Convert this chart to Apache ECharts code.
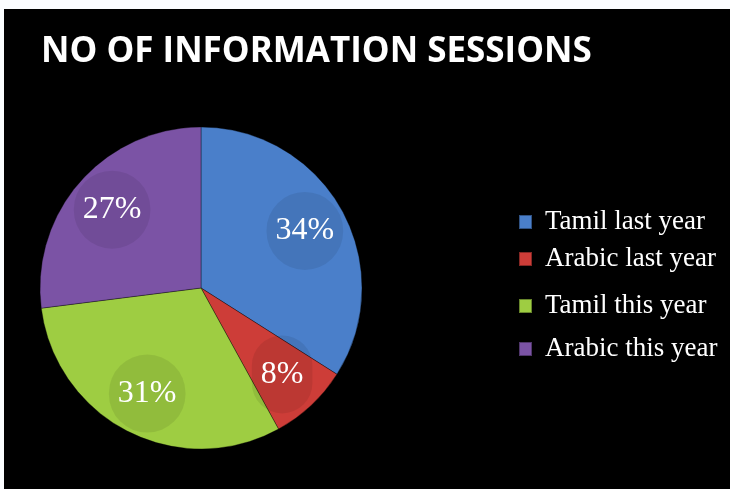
<!DOCTYPE html>
<html>
<head>
<meta charset="utf-8">
<script src="https://cdn.jsdelivr.net/npm/echarts@6/dist/echarts.min.js"></script>
<style>
  html, body { margin: 0; padding: 0; background: #fbfdff; }
  #chart { position: absolute; left: 4px; top: 9px; width: 726px; height: 480px; background: #000; }
</style>
</head>
<body>
<div id="chart"></div>
<script>
// session shares (%)
var categories = ['Tamil last year', 'Arabic last year', 'Tamil this year', 'Arabic this year'];
var shares = [34, 8, 31, 27];
var colors = ['#4a7fca', '#cd3d38', '#9ecd42', '#7b53a5'];

// legend rows are not evenly spaced in the original
var legendTops = [193, 230, 277, 320];

var chart = echarts.init(document.getElementById('chart'));

function pieData(){
	return categories.map(function(name, i){
		return { name: name, value: shares[i] };
	});
}

var legends = categories.map(function(name, i){
	return {
		orient: 'vertical',
		left: 509,
		top: legendTops[i],
		itemWidth: 13,
		itemHeight: 14,
		icon: 'rect',
		data: [name],
		textStyle: {
			color: '#fff',
			fontFamily: 'Liberation Serif',
			fontSize: 27,
			lineHeight: 30,
			padding: [0, 0, 0, 8]
		}
	};
});

var option = {
	backgroundColor: '#000',
	color: colors,
	animation: false,
	title: {
		text: 'NO OF INFORMATION SESSIONS',
		left: 32,
		top: 21,
		textStyle: {
			color: '#fff',
			fontFamily: 'Open Sans',
			fontWeight: 'bold',
			fontSize: 35
		}
	},
	legend: legends,
	series: [
		{
			// the pie itself
			type: 'pie',
			center: [197, 279],
			radius: [0, 161],
			startAngle: 90,
			silent: true,
			label: { show: false },
			itemStyle: {
				borderColor: 'rgba(0,0,0,0.35)',
				borderWidth: 1
			},
			data: pieData()
		},
		{
			// transparent ring, only to place the labels at ~72% of the radius
			type: 'pie',
			center: [197, 279],
			radius: [70, 161],
			startAngle: 90,
			silent: true,
			itemStyle: { color: 'transparent' },
			label: {
				show: true,
				position: 'inside',
				formatter: '{d}%',
				color: '#fff',
				fontFamily: 'Liberation Serif',
				fontSize: 32,
				backgroundColor: 'rgba(0,0,0,0.08)',
				borderRadius: 39,
				padding: [23, 9, 23, 9]
			},
			labelLine: { show: false },
			data: pieData()
		}
	]
};

chart.setOption(option);
</script>
</body>
</html>
